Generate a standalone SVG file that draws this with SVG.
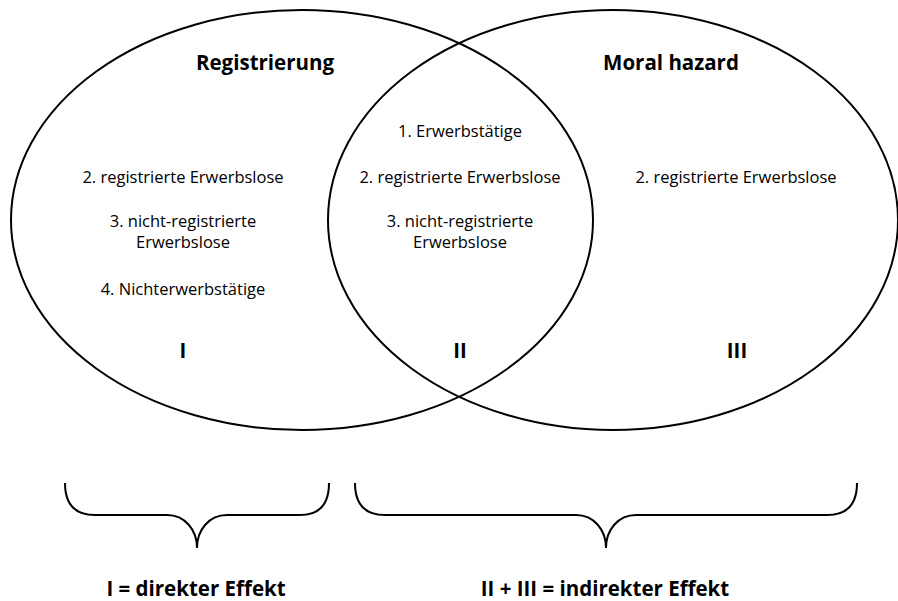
<svg xmlns="http://www.w3.org/2000/svg" width="898" height="601" viewBox="0 0 898 601">
<style>
.e{fill:none;stroke:#000;stroke-width:2}
.t{font-family:"Open Sans","Noto Sans",sans-serif;font-size:16.5px;text-anchor:middle;fill:#000}
.b{font-family:"Open Sans","Noto Sans",sans-serif;font-size:20.5px;font-weight:bold;text-anchor:middle;fill:#000}
</style>
<rect width="898" height="601" fill="#fff"/>
<g id="registrierung">
<ellipse class="e" cx="302" cy="220" rx="291" ry="210"/>
<text class="b" x="265" y="70">Registrierung</text>
<text class="t" x="183" y="183">2. registrierte Erwerbslose</text>
<text class="t" x="183" y="227">3. nicht-registrierte</text>
<text class="t" x="183" y="248">Erwerbslose</text>
<text class="t" x="183" y="295">4. Nichterwerbstätige</text>
<text class="b" x="183" y="358">I</text>
</g>
<g id="moral-hazard">
<ellipse class="e" cx="613" cy="220" rx="285" ry="210"/>
<text class="b" x="671" y="70">Moral hazard</text>
<text class="t" x="736" y="183">2. registrierte Erwerbslose</text>
<text class="b" x="737" y="358">III</text>
</g>
<g id="overlap">
<text class="t" x="460" y="137">1. Erwerbstätige</text>
<text class="t" x="460" y="183">2. registrierte Erwerbslose</text>
<text class="t" x="460" y="227">3. nicht-registrierte</text>
<text class="t" x="460" y="248">Erwerbslose</text>
<text class="b" x="460" y="358">II</text>
</g>
<g id="braces">
<path class="e" d="M65,483 C65,505 75,515 95,515 L167,515 C185,515 197,530 197,548 C197,530 209,515 227,515 L300,515 C319,515 329,505 329,483"/>
<path class="e" d="M355,483 C355,505 365,515 385,515 L576,515 C594,515 606,530 606,548 C606,530 618,515 636,515 L827,515 C847,515 857,505 857,483"/>
</g>
<g id="labels">
<text class="b" x="196" y="596">I = direkter Effekt</text>
<text class="b" x="605" y="596">II + III = indirekter Effekt</text>
</g>
</svg>
